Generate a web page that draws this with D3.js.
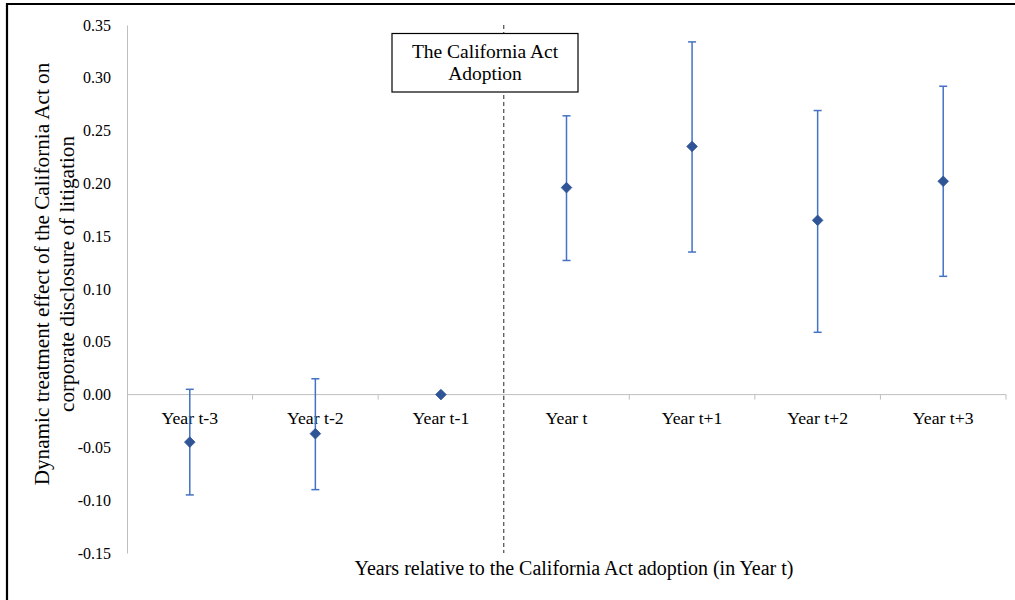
<!DOCTYPE html>
<html>
<head>
<meta charset="utf-8">
<script src="https://cdn.jsdelivr.net/npm/d3@7"></script>
<style>
  html, body { margin: 0; padding: 0; background: #fff; }
  svg { display: block; font-family: "Liberation Serif", "Times New Roman", serif; }
  svg text { font-family: "Liberation Serif", "Times New Roman", serif; }
</style>
</head>
<body>
<svg id="chart" width="1015" height="600"></svg>
<script>
// Event-study estimates: point, upper and lower bounds of the confidence interval
const years = ["Year t-3", "Year t-2", "Year t-1", "Year t", "Year t+1", "Year t+2", "Year t+3"];
const estimates = [-0.045, -0.037, 0.000, 0.196, 0.235, 0.165, 0.202];
const upperBounds = [0.005, 0.015, null, 0.264, 0.334, 0.269, 0.292];
const lowerBounds = [-0.095, -0.090, null, 0.127, 0.135, 0.059, 0.112];
const yTicks = [-0.15, -0.10, -0.05, 0.00, 0.05, 0.10, 0.15, 0.20, 0.25, 0.30, 0.35];
const adoptionYear = "Year t";
const yTitle = ["Dynamic treatment effect of the California Act on", "corporate disclosure of litigation"];
const xTitle = "Years relative to the California Act adoption (in Year t)";
const noteLines = ["The California Act", "Adoption"];

const svg = d3.select("#chart");
const margin = { left: 127, right: 1006, top: 25, bottom: 553 };

const x = d3.scaleBand().domain(years).range([margin.left, margin.right]).padding(0);
const y = d3.scaleLinear().domain([-0.15, 0.35]).range([margin.bottom, margin.top]);

// outer frame (top and left edges)
svg.append("path")
  .attr("d", `M7,600 V4 H1015`)
  .attr("fill", "none").attr("stroke", "#000").attr("stroke-width", 2.2);

// y axis: gray line, labels only (hyphen-minus for negatives)
const fmt = d => d3.format(".2f")(d).replace("\u2212", "-");
const yAxis = svg.append("g")
  .attr("transform", `translate(${margin.left},0)`)
  .call(d3.axisLeft(y).tickValues(yTicks).tickSize(0).tickPadding(16).tickFormat(fmt));
yAxis.attr("font-family", null).attr("font-size", null);
yAxis.select(".domain").attr("stroke", "#bfbfbf").attr("stroke-width", 1);
yAxis.selectAll("text").attr("font-size", 16).attr("fill", "#000");

// x axis at zero with band ticks
const xAxisG = svg.append("g").attr("transform", `translate(0,${y(0)})`);
xAxisG.append("line")
  .attr("x1", margin.left).attr("x2", margin.right)
  .attr("stroke", "#bfbfbf").attr("stroke-width", 1);
const boundaries = years.map(d => x(d)).concat([x(years[years.length - 1]) + x.bandwidth()]);
xAxisG.selectAll("line.tick").data(boundaries.slice(1)).join("line")
  .attr("class", "tick")
  .attr("x1", d => d).attr("x2", d => d).attr("y1", 0).attr("y2", 5)
  .attr("stroke", "#bfbfbf").attr("stroke-width", 1);
xAxisG.selectAll("text").data(years).join("text")
  .attr("x", d => x(d) + x.bandwidth() / 2)
  .attr("y", 29)
  .attr("text-anchor", "middle")
  .attr("font-size", 17.7)
  .attr("fill", "#000")
  .text(d => d);

// vertical dashed line at the adoption year
const xAdopt = x(adoptionYear);
svg.append("line")
  .attr("x1", xAdopt).attr("x2", xAdopt)
  .attr("y1", margin.top).attr("y2", margin.bottom)
  .attr("stroke", "#595959").attr("stroke-width", 1.3)
  .attr("stroke-dasharray", "4,3");

// annotation box
const box = svg.append("g");
box.append("rect")
  .attr("x", 392).attr("y", 33.5).attr("width", 186).attr("height", 58.5)
  .attr("fill", "#fff").attr("stroke", "#000").attr("stroke-width", 1.2);
box.selectAll("text").data(noteLines).join("text")
  .attr("x", 485).attr("y", (d, i) => 58 + i * 22)
  .attr("text-anchor", "middle").attr("font-size", 19.5).attr("fill", "#000")
  .text(d => d);

// error bars
const rows = years.map((d, i) => ({ year: d, est: estimates[i], hi: upperBounds[i], lo: lowerBounds[i] }));
const cx = d => x(d.year) + x.bandwidth() / 2;
const bars = svg.append("g").selectAll("g").data(rows.filter(d => d.hi !== null)).join("g");
bars.append("line")
  .attr("x1", cx).attr("x2", cx)
  .attr("y1", d => y(d.hi)).attr("y2", d => y(d.lo))
  .attr("stroke", "#4472c4").attr("stroke-width", 1.5);
bars.selectAll("line.cap").data(d => [[d, d.hi], [d, d.lo]]).join("line")
  .attr("class", "cap")
  .attr("x1", d => cx(d[0]) - 4).attr("x2", d => cx(d[0]) + 4)
  .attr("y1", d => y(d[1])).attr("y2", d => y(d[1]))
  .attr("stroke", "#4472c4").attr("stroke-width", 1.5);

// diamond markers for point estimates
svg.append("g").selectAll("path").data(rows).join("path")
  .attr("transform", d => `translate(${cx(d)},${y(d.est)})`)
  .attr("d", d3.symbol().type(d3.symbolDiamond2).size(72))
  .attr("fill", "#2f5597").attr("stroke", "#2f5597").attr("stroke-width", 0.8);

// y axis title (two lines, rotated)
const yt = svg.append("text")
  .attr("transform", "translate(0,274) rotate(-90)")
  .attr("text-anchor", "middle").attr("font-size", 21.2).attr("fill", "#000");
yt.selectAll("tspan").data(yTitle).join("tspan")
  .attr("x", 0).attr("y", (d, i) => 49 + i * 25)
  .text(d => d);

// x axis title
svg.append("text")
  .attr("x", 574).attr("y", 575)
  .attr("text-anchor", "middle").attr("font-size", 20).attr("fill", "#000")
  .text(xTitle);
</script>
</body>
</html>
